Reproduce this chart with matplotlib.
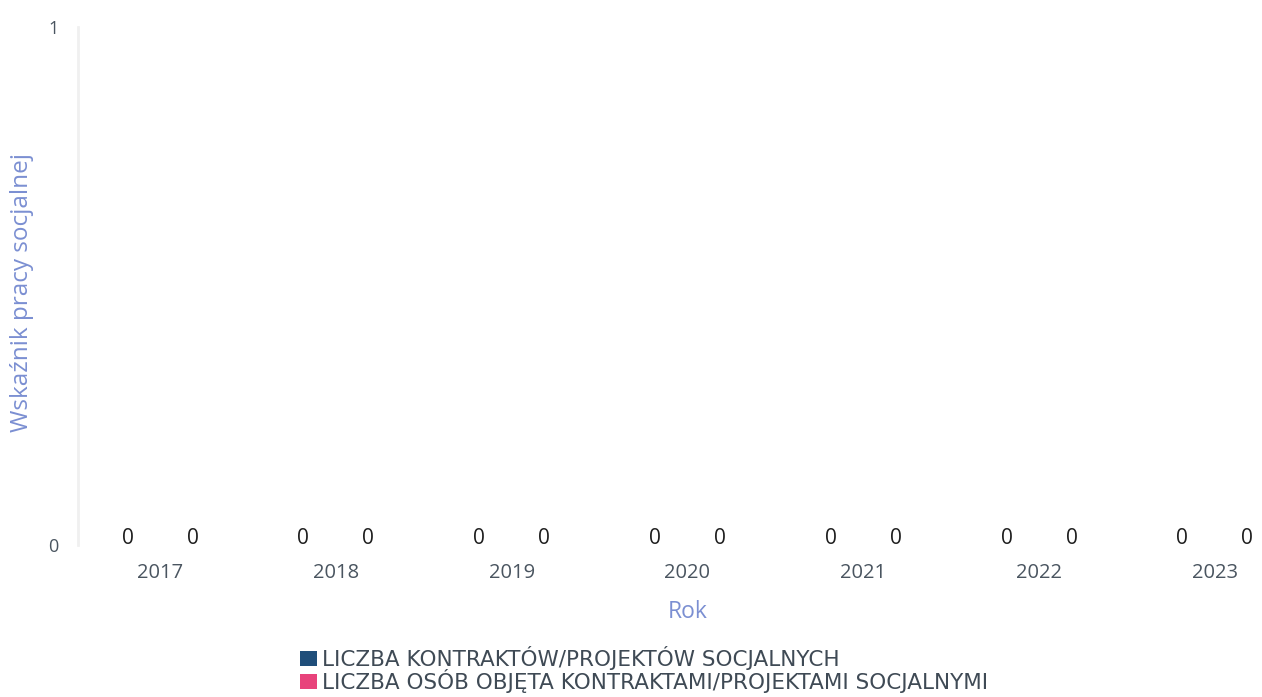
import matplotlib
matplotlib.use("Agg")
import matplotlib.pyplot as plt
import numpy as np
from matplotlib.patches import Patch

years = ["2017", "2018", "2019", "2020", "2021", "2022", "2023"]
kontrakty = [0, 0, 0, 0, 0, 0, 0]
osoby = [0, 0, 0, 0, 0, 0, 0]
series_names = ["LICZBA KONTRAKTÓW/PROJEKTÓW SOCJALNYCH",
                "LICZBA OSÓB OBJĘTA KONTRAKTAMI/PROJEKTAMI SOCJALNYMI"]
colors = ["#1f4e7a", "#e8437b"]

W, H = 1262, 697
AX_L, AX_R, AX_T, AX_B = 78, 1262, 27, 545
fig = plt.figure(figsize=(W / 100, H / 100), dpi=100)
ax = fig.add_axes([AX_L / W, (H - AX_B) / H, (AX_R - AX_L) / W, (AX_B - AX_T) / H])

x = np.arange(len(years))
bw = 0.37
b1 = ax.bar(x - bw / 2, kontrakty, bw, color=colors[0])
b2 = ax.bar(x + bw / 2, osoby, bw, color=colors[1])
for b in (b1, b2):
    ax.bar_label(b, padding=-3, fontsize=15, color="#1e1e1e", family="Open Sans")

ax.set_xlim((AX_L - 160) / 175.8, (AX_R - 160) / 175.8)
ax.set_ylim(0, 1)
ax.set_yticks([0, 1])
ax.set_yticklabels(["0", "1"], family="Open Sans", fontsize=13, color="#4a5560")
ax.set_xticks(x)
ax.set_xticklabels(years, family="Open Sans", fontsize=14.5, color="#4a5560")
ax.tick_params(axis="both", length=0)
ax.tick_params(axis="y", pad=14)
ax.tick_params(axis="x", pad=13)

for s in ["top", "right", "bottom"]:
    ax.spines[s].set_visible(False)
ax.spines["left"].set_color("#f0f0f0")
ax.spines["left"].set_linewidth(2)

AXW = AX_R - AX_L
AXH = AX_B - AX_T
ax.set_ylabel("Wskaźnik pracy socjalnej", family="Open Sans", fontsize=17.5,
              color="#7b8fd2")
ax.yaxis.label.set_va("center")
ax.yaxis.set_label_coords((22 - AX_L) / AXW, 1 - (293 - AX_T) / AXH)
ax.set_xlabel("Rok", family="Open Sans", fontsize=16.5, color="#7b8fd2")
ax.xaxis.label.set_va("center")
ax.xaxis.set_label_coords((688 - AX_L) / AXW, -(612 - AX_B) / AXH)

handles = [Patch(facecolor=c, edgecolor="none") for c in colors]
fig.legend(handles, series_names, loc="upper left",
           bbox_to_anchor=(300 / W, 1 - 646 / H), frameon=False,
           prop={"family": "DejaVu Sans", "size": 15.5},
           labelcolor="#3f4a55", handlelength=0.8, handleheight=0.75,
           handletextpad=0.2, labelspacing=-0.05, borderaxespad=0,
           borderpad=0)

fig.savefig("out.png", dpi=100)
